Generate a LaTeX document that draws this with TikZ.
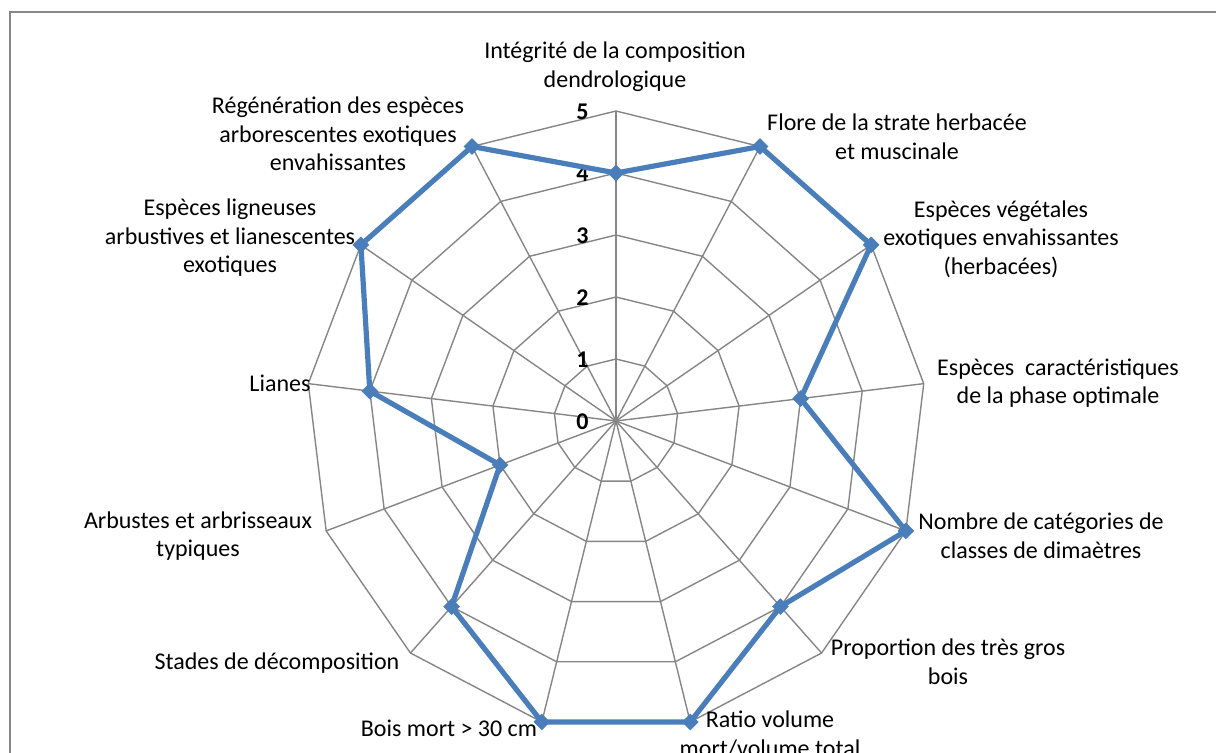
\documentclass[tikz,border=0pt]{standalone}
\usepackage{fontspec}
\setmainfont{Carlito}
\usetikzlibrary{shapes.geometric}
\definecolor{gridgray}{RGB}{134,134,134}
\definecolor{serieblue}{RGB}{74,126,187}
\begin{document}
\begin{tikzpicture}[x=0.5pt,y=-0.5pt,
  grid/.style={draw=gridgray,line width=0.7pt},
  frame/.style={draw=gridgray,line width=0.9pt},
  series/.style={draw=serieblue,line width=2.6pt,line join=miter},
  mk/.style={diamond,fill=serieblue,inner sep=0pt,minimum size=8.5pt},
  lbl/.style={font=\fontsize{12}{14.3}\selectfont,align=center,inner sep=0pt},
  num/.style={font=\fontsize{12}{14.3}\selectfont\bfseries,anchor=east,inner sep=0pt}]
\useasboundingbox (0,0) rectangle (1216,753);
\fill[white] (0,0) rectangle (1216,753);
\draw[frame] (10,12) rectangle (1240,790);
\coordinate (O) at (616,421);
% ring vertices
\foreach \k in {1,...,5}
  \foreach \i in {0,...,12}
    \coordinate (r\k-\i) at ({616+62*\k*cos(90-\i*360/13)},{421-62*\k*sin(90-\i*360/13)});
% rings
\foreach \k in {1,...,5}
  \draw[grid] (r\k-0) \foreach \i in {1,...,12}{ -- (r\k-\i)} -- cycle;
% axes
\foreach \i in {0,...,12}
  \draw[grid] (O) -- (r5-\i);
% scale numbers
\foreach \k in {0,...,5}
  \node[num] (n\k) at (589,{422-62*\k}) {\k};
% data
\foreach \v [count=\j from 0] in {4,5,5,3,5,4,5,5,4,2,4,5,5}
  \coordinate (d\j) at ({616+62*\v*cos(90-\j*360/13)},{421-62*\v*sin(90-\j*360/13)});
\draw[series] (d0) \foreach \i in {1,...,12}{ -- (d\i)} -- cycle;
\foreach \i in {0,...,12}
  \node[mk] (m\i) at (d\i) {};
% labels
\node[lbl] (l0) at (615,67) {Intégrité de la composition\\dendrologique};
\node[lbl] (l1) at (897,137) {Flore de la strate herbacée\\et muscinale};
\node[lbl] (l2) at (1001,239) {Espèces végétales\\exotiques envahissantes\\(herbacées)};
\node[lbl] (l3) at (1058,383) {Espèces\ \ caractéristiques\\de la phase optimale};
\node[lbl] (l4) at (1041,536) {Nombre de catégories de\\classes de dimaètres};
\node[lbl] (l5) at (948,662) {Proportion des très gros\\bois};
\node[lbl] (l6) at (770,734) {Ratio volume\\mort/volume total};
\node[lbl] (l7) at (449,728) {Bois mort > 30 cm};
\node[lbl] (l8) at (277,663) {Stades de décomposition};
\node[lbl] (l9) at (198,536) {Arbustes et arbrisseaux\\typiques};
\node[lbl] (l10) at (280,383) {Lianes};
\node[lbl] (l11) at (230,238) {Espèces ligneuses\\arbustives et lianescentes\\exotiques};
\node[lbl] (l12) at (338,134) {Régénération des espèces\\arborescentes exotiques\\envahissantes};
\end{tikzpicture}
\end{document}
